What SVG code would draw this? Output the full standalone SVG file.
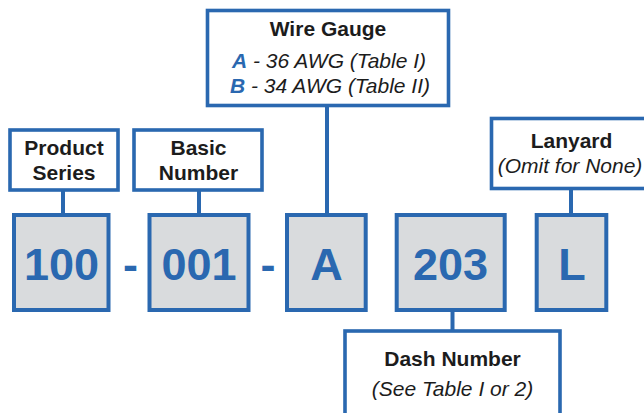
<svg xmlns="http://www.w3.org/2000/svg" width="644" height="413" viewBox="0 0 644 413">
<defs>
<style>
.lbl{fill:#ffffff;stroke:#2a68b0;stroke-width:3.6}
.num{fill:#d9dbdd;stroke:#2a68b0;stroke-width:4}
.conn{stroke:#2a68b0;stroke-width:4;fill:none}
.b{font-family:"Liberation Sans",Arial,sans-serif;font-weight:bold;font-size:21px;fill:#1c1c1c;text-anchor:middle}
.i{font-family:"Liberation Sans",Arial,sans-serif;font-style:italic;font-size:21px;fill:#1c1c1c;text-anchor:middle}
.bl{fill:#2a68b0;font-weight:bold}
.big{font-family:"Liberation Sans",Arial,sans-serif;font-weight:bold;font-size:45px;fill:#2a68b0;text-anchor:middle}
</style>
</defs>
<rect width="644" height="413" fill="#ffffff"/>
<g id="connectors">
<line class="conn" x1="63" y1="190" x2="63" y2="215"/>
<line class="conn" x1="199" y1="190" x2="199" y2="215"/>
<line class="conn" x1="327" y1="105.5" x2="327" y2="215"/>
<line class="conn" x1="571" y1="188.5" x2="571" y2="215"/>
<line class="conn" x1="452.5" y1="310" x2="452.5" y2="331"/>
</g>
<g id="wire-gauge">
<rect class="lbl" x="207.5" y="10.5" width="241" height="95"/>
<text class="b" x="328" y="36">Wire Gauge</text>
<text class="i" x="329" y="68"><tspan class="bl">A</tspan> - 36 AWG (Table I)</text>
<text class="i" x="330" y="93"><tspan class="bl">B</tspan> - 34 AWG (Table II)</text>
</g>
<g id="product-series">
<rect class="lbl" x="10" y="130" width="108" height="60"/>
<text class="b" x="64" y="155">Product</text>
<text class="b" x="64" y="180">Series</text>
</g>
<g id="basic-number">
<rect class="lbl" x="134" y="130" width="128" height="60"/>
<text class="b" x="198.5" y="155">Basic</text>
<text class="b" x="198.5" y="180">Number</text>
</g>
<g id="lanyard">
<rect class="lbl" x="491.5" y="118.5" width="160" height="70"/>
<text class="b" x="571.5" y="148">Lanyard</text>
<text class="i" x="570" y="173">(Omit for None)</text>
</g>
<g id="box-100">
<rect class="num" x="14" y="215" width="94.5" height="95"/>
<text class="big" x="61.5" y="280">100</text>
</g>
<text class="big" x="130.5" y="280">-</text>
<g id="box-001">
<rect class="num" x="149.5" y="215" width="99" height="95"/>
<text class="big" x="199" y="280">001</text>
</g>
<text class="big" x="268" y="280">-</text>
<g id="box-A">
<rect class="num" x="287" y="215" width="78.7" height="95"/>
<text class="big" x="326.5" y="280">A</text>
</g>
<g id="box-203">
<rect class="num" x="396.7" y="215" width="108" height="95"/>
<text class="big" x="450.5" y="280">203</text>
</g>
<g id="box-L">
<rect class="num" x="536.7" y="215" width="69.6" height="95"/>
<text class="big" x="572" y="280">L</text>
</g>
<g id="dash-number">
<rect class="lbl" x="345" y="331" width="215" height="90"/>
<text class="b" x="452.5" y="366">Dash Number</text>
<text class="i" x="452.5" y="396">(See Table I or 2)</text>
</g>
</svg>
